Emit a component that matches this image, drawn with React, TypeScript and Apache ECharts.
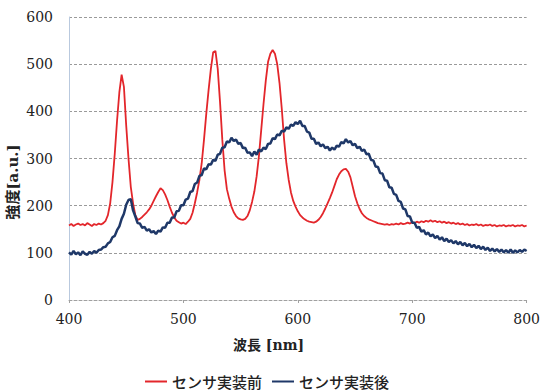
import React, { useEffect, useRef } from "react";
import * as echarts from "echarts";

// wavelength grid: 400..800 nm, every 2 nm
const wavelengths: number[] = [];
for (let w = 400; w <= 800; w += 2) wavelengths.push(w);

// センサ実装前 (red)
const before: number[] = [
  158, 161, 157, 160, 162, 159, 161, 158, 163, 160,
  157, 161, 159, 162, 160, 163, 168, 180, 205, 250,
  310, 380, 440, 478, 452, 370, 300, 240, 205, 180,
  170, 172, 176, 181, 186, 192, 200, 210, 220, 229,
  237, 233, 224, 212, 198, 185, 175, 168, 165, 162,
  164, 161, 166, 172, 185, 205, 228, 255, 290, 340,
  395, 445, 490, 525, 528, 490, 420, 340, 275, 235,
  215, 198, 186, 178, 173, 171, 170, 172, 178, 190,
  208, 230, 262, 305, 360, 415, 465, 505, 522, 530,
  522, 500, 460, 405, 340, 290, 255, 228, 210, 198,
  188, 180, 175, 171, 168, 166, 165, 164, 166, 170,
  176, 184, 194, 205, 216, 228, 242, 256, 266, 273,
  277, 278, 272, 260, 240, 220, 205, 193, 184, 178,
  174, 171, 169, 167, 165, 163, 162, 161, 160, 161,
  159, 161, 160, 162, 160, 163, 161, 162, 164, 162,
  165, 163, 166, 164, 167, 165, 168, 166, 169, 166,
  168, 165, 167, 164, 166, 163, 165, 162, 164, 161,
  163, 160, 162, 159, 161, 158, 160, 159, 161, 158,
  160, 157, 159, 158, 160, 157, 159, 156, 158, 157,
  159, 156, 158, 157, 159, 156, 158, 157, 159, 156,
  158,
];

// センサ実装後 (blue)
const after: number[] = [
  101, 96, 104, 97, 101, 95, 103, 98, 96, 102,
  98, 104, 100, 106, 107, 112, 113, 120, 123, 133,
  136, 148, 156, 172, 183, 202, 212, 214, 190, 177,
  163, 162, 153, 155, 147, 150, 143, 146, 140, 147,
  145, 154, 153, 164, 164, 175, 175, 188, 189, 201,
  201, 213, 215, 229, 231, 246, 249, 263, 265, 279,
  277, 288, 287, 297, 295, 308, 310, 323, 324, 336,
  334, 344, 337, 340, 331, 333, 322, 323, 312, 313,
  305, 315, 308, 319, 315, 323, 320, 331, 332, 343,
  341, 351, 349, 359, 357, 366, 363, 372, 369, 377,
  373, 380, 369, 369, 357, 355, 342, 342, 331, 334,
  326, 330, 322, 325, 317, 323, 319, 327, 325, 335,
  332, 341, 334, 337, 328, 331, 322, 325, 316, 319,
  309, 310, 297, 296, 283, 282, 269, 268, 254, 253,
  239, 238, 225, 223, 210, 208, 194, 192, 178, 177,
  164, 164, 153, 155, 145, 148, 139, 143, 135, 139,
  131, 136, 128, 133, 125, 130, 123, 127, 120, 125,
  118, 123, 116, 121, 114, 119, 112, 117, 110, 115,
  108, 113, 106, 111, 104, 109, 103, 108, 102, 107,
  101, 106, 100, 107, 100, 105, 101, 106, 102, 107,
  104,
];

const seriesNames = ["センサ実装前", "センサ実装後"];
const xTicks = { min: 400, max: 800, interval: 100 };
const yTicks = { min: 0, max: 600, interval: 100 };
const xAxisTitle = "波長 [nm]";
const yAxisTitle = "強度[a.u.]";

const SERIF = "DejaVu Serif";
const GOTHIC = "Noto Sans CJK JP";

export default function App() {
  const ref = useRef<HTMLDivElement>(null);
  useEffect(() => {
    if (!ref.current) return;
    const chart = echarts.init(ref.current, null, { renderer: "svg" });
    chart.setOption({
      animation: false,
      backgroundColor: "#ffffff",
      grid: { left: 69, right: 14, top: 17, bottom: 91, containLabel: false },
      legend: {
        left: 140,
        top: 369,
        itemWidth: 22,
        itemHeight: 2,
        itemGap: 10,
        icon: "rect",
        textStyle: { fontFamily: GOTHIC, fontSize: 15, color: "#222", fontWeight: 500 },
        data: seriesNames,
      },
      xAxis: {
        type: "value",
        min: xTicks.min,
        max: xTicks.max,
        interval: xTicks.interval,
        axisLine: { show: true, lineStyle: { color: "#a0a0a0", type: [3, 2], width: 1 } },
        axisTick: { show: true, length: 3, inside: false, lineStyle: { color: "#a0a0a0" } },
        axisLabel: { fontFamily: SERIF, fontSize: 14, color: "#222", margin: 12 },
        splitLine: { show: false },
      },
      yAxis: {
        type: "value",
        min: yTicks.min,
        max: yTicks.max,
        interval: yTicks.interval,
        axisLine: { show: true, lineStyle: { color: "#b9c9de", width: 1 } },
        axisTick: { show: false },
        axisLabel: { fontFamily: SERIF, fontSize: 14, color: "#222", margin: 16 },
        splitLine: { show: true, lineStyle: { color: "#9a9a9a", type: [3, 2], width: 1 } },
      },
      graphic: [
        {
          type: "text",
          x: 233,
          y: 345,
          style: {
            text: xAxisTitle,
            font: "bold 14px 'DejaVu Serif', 'Noto Sans CJK JP'",
            fill: "#222",
            align: "left",
            verticalAlign: "middle",
          },
        },
        {
          type: "text",
          x: 13,
          y: 182,
          rotation: Math.PI / 2,
          style: {
            text: yAxisTitle,
            font: "bold 15px 'DejaVu Serif', 'Noto Sans CJK JP'",
            fill: "#222",
            align: "center",
            verticalAlign: "middle",
          },
        },
      ],
      series: [
        {
          name: seriesNames[0],
          type: "line",
          showSymbol: false,
          symbol: "none",
          data: wavelengths.map((w, i) => [w, before[i]]),
          lineStyle: { color: "#e3262b", width: 1.8 },
          itemStyle: { color: "#e3262b" },
          z: 2,
        },
        {
          name: seriesNames[1],
          type: "line",
          showSymbol: false,
          symbol: "none",
          data: wavelengths.map((w, i) => [w, after[i]]),
          lineStyle: { color: "#1f3868", width: 2.5 },
          itemStyle: { color: "#1f3868" },
          z: 3,
        },
      ],
    });
    return () => chart.dispose();
  }, []);
  return <div ref={ref} style={{ width: 543, height: 391, position: "absolute", left: 0, top: 0 }} />;
}
